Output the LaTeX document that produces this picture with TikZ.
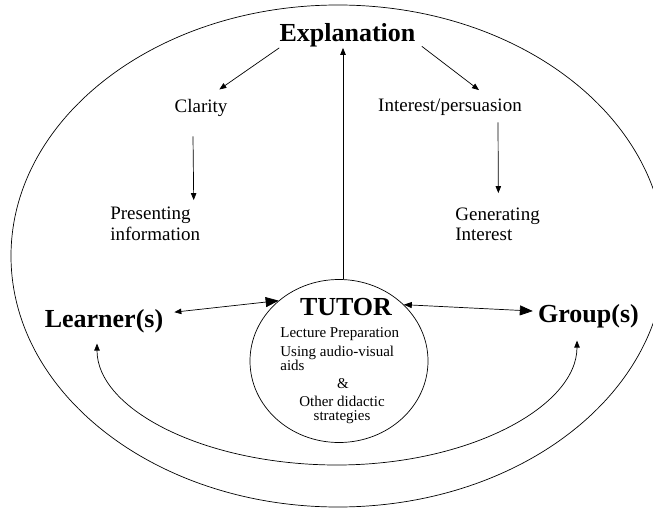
\documentclass[tikz,border=0pt]{standalone}
\usepackage{fontspec}
\setmainfont{Liberation Serif}
\usetikzlibrary{arrows.meta,shapes.geometric}
\begin{document}
\begin{tikzpicture}[x=1pt,y=-1pt,line width=0.7pt,
  big/.style={font=\fontsize{26}{30}\selectfont\bfseries,inner sep=0pt},
  mid/.style={font=\fontsize{19}{22}\selectfont,inner sep=0pt},
  small/.style={font=\fontsize{15}{17}\selectfont,inner sep=0pt},
  stip/.style={-{Triangle[length=7pt,width=5.5pt]}},
  lefttwo/.style={{Triangle[length=7pt,width=5.5pt]}-{Triangle[length=13pt,width=10pt]}},
  righttwo/.style={{Triangle[length=8pt,width=6pt]}-{Triangle[length=13pt,width=10pt]}},
  bothsmall/.style={{Triangle[length=7pt,width=5.5pt]}-{Triangle[length=7pt,width=5.5pt]}},
  ring/.style={draw,ellipse,inner sep=0pt}]
\useasboundingbox (0,0) rectangle (653,508);
\clip (0,0) rectangle (653,508);

% outer ellipse
\draw (338,256) ellipse [x radius=327pt, y radius=251pt];

% tutor circle
\node[ring,minimum width=178pt,minimum height=163pt] (tutor) at (339,361) {};

% texts
\node[big,anchor=base] (expl) at (347.5,42) {Explanation};
\node[mid,anchor=base] (clar) at (201,113) {Clarity};
\node[mid,anchor=base] (inter) at (450,112) {Interest/persuasion};
\node[mid,anchor=base west] (pres1) at (110,219) {Presenting};
\node[mid,anchor=base west] (pres2) at (110,240) {information};
\node[mid,anchor=base west] (gen1) at (455,220) {Generating};
\node[mid,anchor=base west] (gen2) at (455,240) {Interest};
\node[big,anchor=base] (learner) at (104,327) {Learner(s)};
\node[big,anchor=base] (group) at (588.5,322) {Group(s)};
\node[big,anchor=base] (tutorlbl) at (346,315) {TUTOR};
\node[small,anchor=base west] (lec) at (280,337) {Lecture Preparation};
\node[small,anchor=base west] (using) at (280,356) {Using audio-visual};
\node[small,anchor=base west] (aids) at (280,370.5) {aids};
\node[small,anchor=base] (amp) at (343,388) {\&};
\node[small,anchor=base] (other) at (342,406) {Other didactic};
\node[small,anchor=base] (strat) at (342,420.5) {strategies};

% connectors
\draw[stip] (expl.south west) -- ([shift={(-8.4,-10)}]clar.north east);
\draw[stip] ([shift={(6,-1.6)}]expl.south east) -- ([shift={(29,-9)}]inter.north);
\draw[stip] ([shift={(-8,19)}]clar.south) -- ([shift={(2.8,-6)}]pres1.north east);
\draw[stip] ([shift={(48,6)}]inter.south) -- ([shift={(0.8,-14)}]gen1.north);
\draw[stip] ([xshift=4pt]tutor.north) -- ([shift={(-4.5,0)}]expl.south);
\draw[lefttwo] ([shift={(10.8,-8.6)}]learner.east) -- (tutor.135);
\draw[righttwo] (tutor.41) -- ([shift={(-5,-4.7)}]group.west);
\coordinate (arcbot) at (337,465);
\draw[bothsmall] ([shift={(-7,10.7)}]learner.south) .. controls +(0,66) and +(-132,0) .. (arcbot)
  .. controls +(132,0) and +(0,66) .. ([shift={(-11.5,12.7)}]group.south);
\end{tikzpicture}
\end{document}
